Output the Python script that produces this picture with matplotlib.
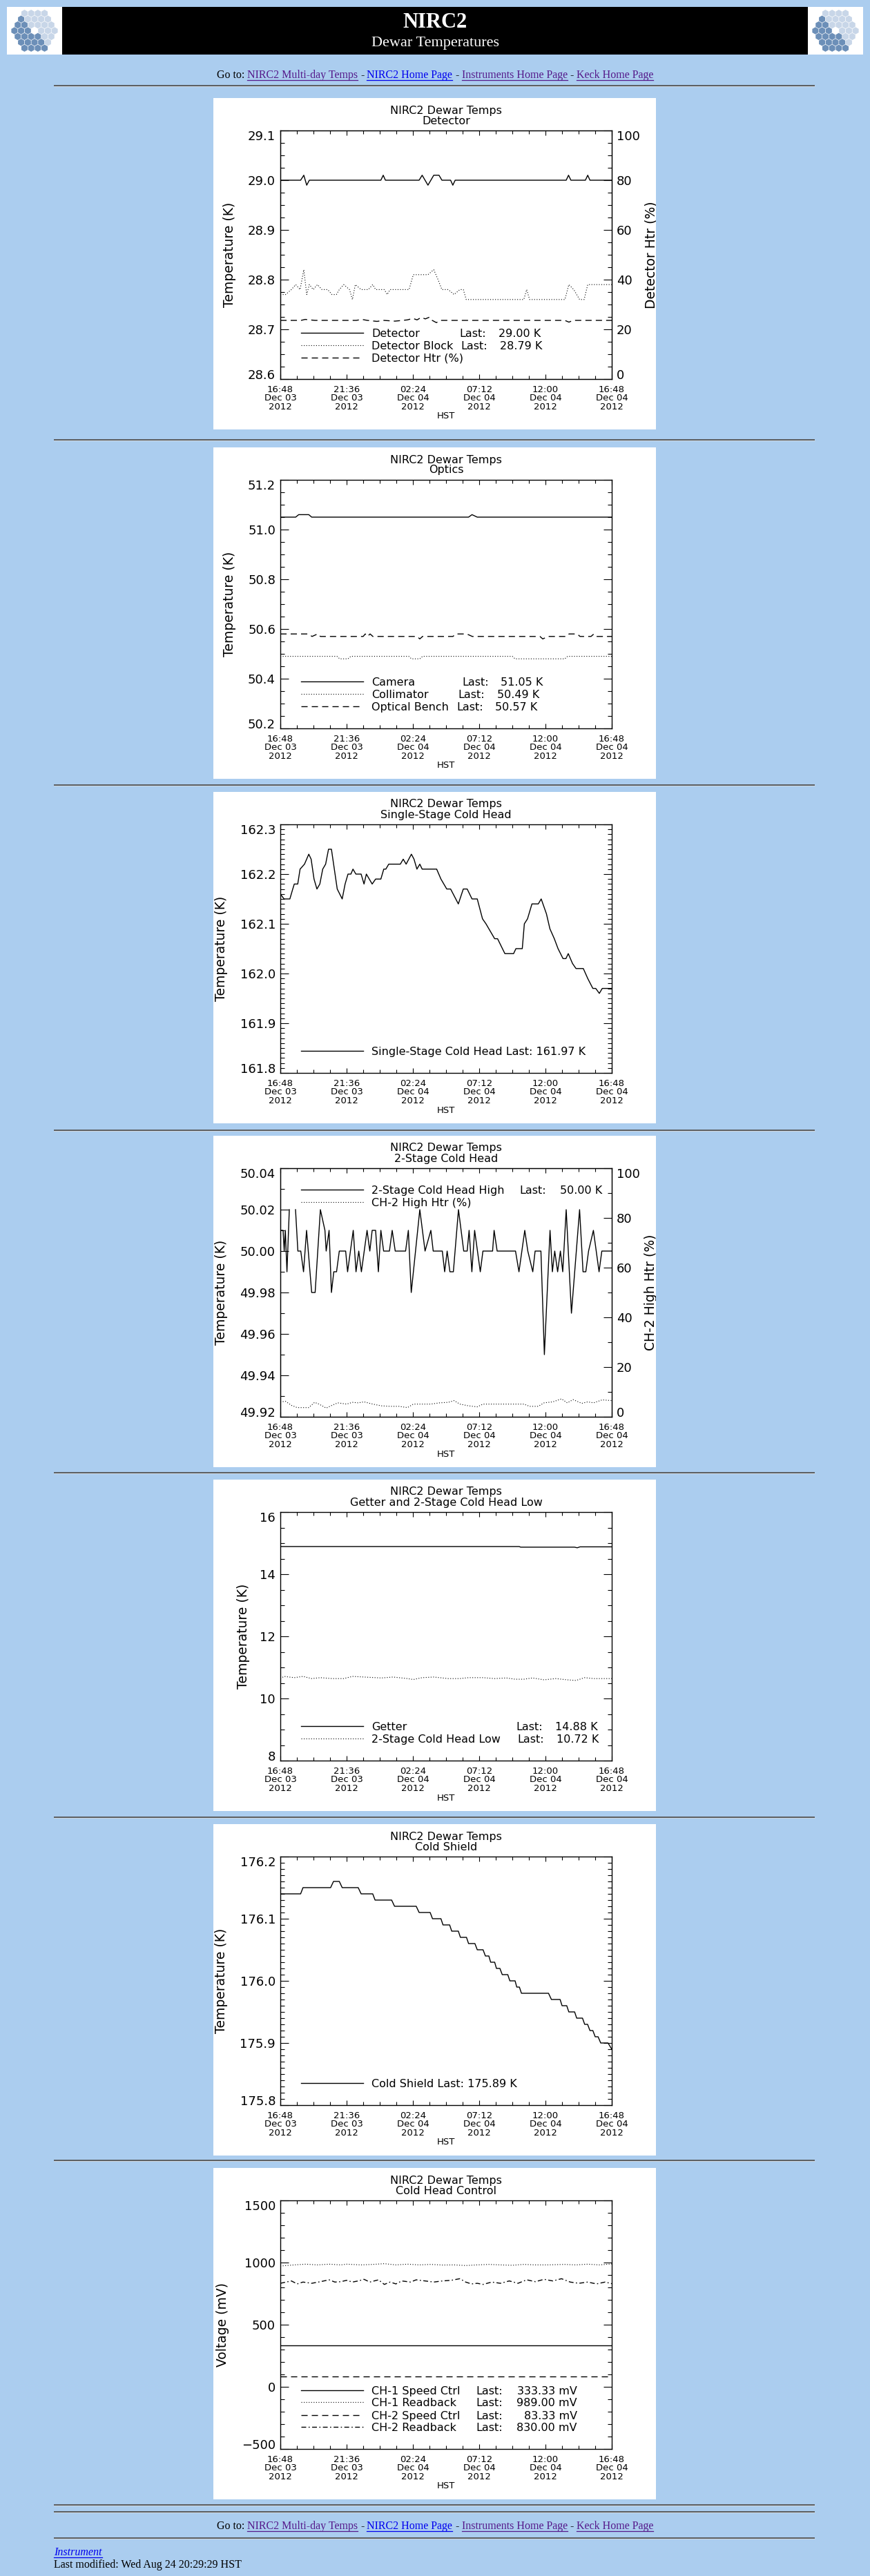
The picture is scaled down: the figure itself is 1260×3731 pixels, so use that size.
import matplotlib
matplotlib.use("Agg")
import matplotlib.pyplot as plt
import numpy as np
from matplotlib import transforms
from matplotlib.patches import Rectangle, RegularPolygon
from matplotlib.ticker import MultipleLocator

W, H = 1260, 3731
PAGE_BG = "#ABCDEF"
VISITED = "#551A8B"
LINK = "#0000EE"
nan = float("nan")

# ---- data (hours since 16:48 Dec 03 2012 HST, value) ----
X_TICK_HOURS = [0, 4.8, 9.6, 14.4, 19.2, 24]
X_TICK_LABELS = ["16:48\nDec 03\n2012", "21:36\nDec 03\n2012", "02:24\nDec 04\n2012",
                 "07:12\nDec 04\n2012", "12:00\nDec 04\n2012", "16:48\nDec 04\n2012"]

DETECTOR = [(0.0, 29.00), (1.47, 29.00), (1.70, 29.01), (1.91, 28.99), (2.10, 29.00),
            (7.28, 29.00), (7.45, 29.01), (7.61, 29.00), (10.05, 29.00), (10.27, 29.01),
            (10.69, 28.99), (11.11, 29.01), (11.49, 29.01), (11.70, 29.00), (12.33, 29.00),
            (12.49, 28.99), (12.66, 29.00), (20.70, 29.00), (20.87, 29.01), (21.04, 29.00),
            (22.09, 29.00), (22.26, 29.01), (22.42, 29.00), (24.0, 29.00)]
DETECTOR_BLOCK = [(0.0, 28.77), (0.38, 28.77), (0.80, 28.78), (1.11, 28.79), (1.43, 28.78),
                  (1.70, 28.82), (1.91, 28.77), (2.10, 28.79), (2.38, 28.78), (2.69, 28.79),
                  (3.01, 28.78), (3.43, 28.78), (3.74, 28.77), (4.06, 28.77), (4.27, 28.78),
                  (4.59, 28.79), (5.01, 28.78), (5.22, 28.76), (5.43, 28.79), (5.85, 28.78),
                  (6.37, 28.78), (6.69, 28.79), (6.90, 28.78), (7.53, 28.78), (7.74, 28.77),
                  (7.95, 28.78), (9.32, 28.78), (9.63, 28.81), (10.69, 28.81), (11.11, 28.82),
                  (11.42, 28.80), (11.70, 28.78), (12.16, 28.78), (12.58, 28.77), (13.00, 28.78),
                  (13.25, 28.78), (13.46, 28.76), (17.63, 28.76), (17.84, 28.78), (18.05, 28.76),
                  (20.61, 28.76), (20.89, 28.79), (21.25, 28.78), (21.67, 28.76), (22.00, 28.76),
                  (22.26, 28.79), (24.0, 28.79)]
DETECTOR_HTR = [(0.0, 23.6), (1.5, 23.6), (1.8, 24.0), (2.5, 23.6), (5.5, 23.6), (5.9, 24.0),
                (6.3, 23.6), (7.0, 23.2), (7.5, 23.6), (8.3, 23.3), (9.2, 23.8), (9.6, 24.4),
                (9.9, 23.8), (10.2, 24.8), (10.5, 24.2), (10.8, 24.9), (11.0, 23.6), (11.3, 22.7),
                (11.6, 23.6), (20.6, 23.6), (20.9, 22.9), (21.2, 23.6), (24.0, 23.6)]

CAMERA = [(0.0, 51.05), (1.11, 51.05), (1.33, 51.06), (2.06, 51.06), (2.27, 51.05),
          (13.63, 51.05), (13.88, 51.06), (14.26, 51.05), (24.0, 51.05)]
COLLIMATOR = [(0.0, 50.49), (4.1, 50.49), (4.3, 50.48), (4.9, 50.48), (5.1, 50.49),
              (9.3, 50.49), (9.5, 50.48), (10.1, 50.48), (10.3, 50.49), (16.8, 50.49),
              (17.0, 50.48), (20.6, 50.48), (20.8, 50.49), (24.0, 50.49)]
OPTICAL_BENCH = [(0.0, 50.58), (2.0, 50.58), (2.3, 50.57), (2.7, 50.58), (2.9, 50.57),
                 (6.0, 50.57), (6.15, 50.58), (6.3, 50.57), (6.5, 50.58), (6.7, 50.57),
                 (9.9, 50.57), (10.1, 50.56), (10.3, 50.57), (12.5, 50.57), (12.7, 50.58),
                 (13.5, 50.58), (13.9, 50.57), (18.8, 50.57), (19.0, 50.56), (19.4, 50.57),
                 (20.7, 50.57), (20.9, 50.58), (21.5, 50.58), (21.7, 50.57), (22.5, 50.57),
                 (22.7, 50.58), (22.9, 50.57), (24.0, 50.57)]

SINGLE_STAGE = [(0.0, 162.16), (0.27, 162.15), (0.69, 162.15), (0.90, 162.17), (1.01, 162.18),
                (1.26, 162.18), (1.43, 162.21), (1.75, 162.22), (2.06, 162.24), (2.23, 162.23),
                (2.44, 162.19), (2.65, 162.17), (2.86, 162.18), (3.07, 162.21), (3.28, 162.22),
                (3.49, 162.25), (3.70, 162.25), (3.91, 162.21), (4.12, 162.17), (4.48, 162.15),
                (4.69, 162.18), (4.90, 162.20), (5.11, 162.20), (5.26, 162.21), (5.47, 162.20),
                (5.85, 162.20), (6.06, 162.18), (6.23, 162.20), (6.65, 162.18), (6.90, 162.19),
                (7.28, 162.19), (7.49, 162.21), (7.64, 162.21), (7.85, 162.22), (8.69, 162.22),
                (8.90, 162.23), (9.11, 162.22), (9.49, 162.24), (9.68, 162.23), (9.89, 162.21),
                (10.10, 162.22), (10.27, 162.21), (11.32, 162.21), (11.63, 162.19), (12.05, 162.17),
                (12.33, 162.17), (12.89, 162.14), (13.25, 162.17), (13.53, 162.17), (13.88, 162.15),
                (14.26, 162.15), (14.64, 162.11), (14.89, 162.10), (15.52, 162.07), (15.73, 162.07),
                (16.26, 162.04), (16.89, 162.04), (17.06, 162.05), (17.52, 162.05), (17.67, 162.10),
                (17.90, 162.11), (18.22, 162.14), (18.68, 162.14), (18.89, 162.15), (19.27, 162.12),
                (19.52, 162.09), (19.84, 162.07), (20.11, 162.05), (20.47, 162.03), (20.68, 162.03),
                (20.85, 162.04), (21.16, 162.02), (21.41, 162.01), (21.94, 162.01), (22.26, 161.99),
                (22.63, 161.97), (22.84, 161.97), (23.10, 161.96), (23.31, 161.97), (24.0, 161.97)]

CH2_HIGH = [(0.00, 50.01), (0.20, 50.01), (0.28, 50.00), (0.36, 50.01), (0.48, 49.99),
            (0.65, 50.02), (0.85, nan), (1.10, 50.02), (1.27, 50.00), (1.48, 50.00),
            (1.68, 49.99), (1.90, 50.01), (2.27, 49.98), (2.52, 49.98), (2.90, 50.02),
            (3.23, 50.01), (3.32, 50.00), (3.53, 50.01), (3.70, 49.98), (3.87, 49.99),
            (4.07, 49.99), (4.27, 50.00), (4.73, 50.00), (4.87, 49.99), (5.28, 50.01),
            (5.48, 49.99), (5.68, 50.00), (5.87, 49.99), (6.28, 50.01), (6.48, 50.00),
            (6.65, 50.01), (6.90, 50.01), (7.10, 49.99), (7.28, 50.01), (7.48, 50.00),
            (7.90, 50.00), (8.10, 50.01), (8.32, 50.00), (9.07, 50.00), (9.27, 50.01),
            (9.48, 49.98), (10.10, 50.02), (10.48, 50.00), (10.90, 50.01), (11.07, 50.00),
            (11.73, 50.00), (11.90, 49.99), (12.08, 50.00), (12.28, 49.99), (12.53, 49.99),
            (12.90, 50.02), (13.28, 50.00), (13.53, 50.00), (13.67, 50.01), (13.87, 49.99),
            (14.07, 50.01), (14.48, 49.99), (14.67, 50.00), (15.37, 50.00), (15.48, 50.01),
            (15.70, 50.00), (17.03, 50.00), (17.28, 49.99), (17.70, 50.01), (17.92, 50.00),
            (18.28, 49.99), (18.45, 50.00), (18.87, 50.00), (19.12, 49.95), (19.53, 50.01),
            (19.70, 49.99), (19.87, 50.00), (20.08, 49.99), (20.28, 50.00), (20.45, 49.99),
            (20.70, 50.02), (21.08, 49.97), (21.67, 50.02), (21.92, 49.99), (22.12, 49.99),
            (22.32, 50.00), (22.67, 50.01), (23.08, 49.99), (23.28, 50.00), (24.00, 50.00)]
CH2_HIGH_HTR = [(0.0, 6.0), (0.38, 6.2), (0.80, 4.6), (1.22, 3.7), (2.06, 3.7), (2.48, 5.8),
                (2.80, 5.1), (3.32, 3.5), (3.74, 4.6), (4.16, 5.6), (4.80, 5.1), (5.22, 5.8),
                (5.64, 5.6), (6.06, 6.0), (6.69, 5.1), (7.32, 4.4), (7.95, 4.2), (8.58, 4.2),
                (9.21, 3.7), (9.63, 5.1), (10.27, 5.1), (10.90, 5.1), (11.53, 5.6), (12.16, 5.8),
                (12.58, 6.5), (13.00, 5.1), (13.63, 4.4), (14.26, 4.0), (14.68, 5.1), (15.52, 5.1),
                (16.37, 5.1), (17.00, 5.1), (17.63, 5.1), (18.05, 4.2), (18.68, 4.2), (19.10, 5.6),
                (19.73, 6.0), (20.36, 7.2), (20.78, 5.6), (21.20, 6.9), (21.83, 5.4), (22.26, 6.0),
                (22.68, 5.6), (23.31, 6.8), (24.0, 6.5)]

GETTER = [(0.0, 14.89), (17.3, 14.89), (17.4, 14.87), (21.3, 14.87), (21.5, 14.85),
          (21.7, 14.88), (24.0, 14.88)]
CH2_LOW = [(0.0, 10.64), (0.27, 10.71), (1.01, 10.67), (1.64, 10.71), (2.27, 10.64),
           (2.90, 10.67), (3.74, 10.64), (4.59, 10.64), (5.22, 10.71), (6.06, 10.69),
           (7.32, 10.66), (8.16, 10.69), (9.21, 10.64), (9.63, 10.61), (10.27, 10.67),
           (11.11, 10.69), (12.16, 10.64), (13.00, 10.64), (13.63, 10.67), (14.68, 10.67),
           (15.52, 10.64), (16.37, 10.66), (17.00, 10.62), (17.63, 10.62), (18.26, 10.66),
           (19.10, 10.60), (19.94, 10.64), (20.78, 10.60), (21.41, 10.58), (22.04, 10.67),
           (22.68, 10.64), (23.31, 10.64), (24.0, 10.64)]

COLD_SHIELD = [(0.0, 176.14), (1.47, 176.14), (1.64, 176.15), (3.64, 176.15), (3.85, 176.16),
               (4.27, 176.16), (4.48, 176.15), (5.64, 176.15), (5.85, 176.14), (6.69, 176.14),
               (6.86, 176.13), (8.06, 176.13), (8.27, 176.12), (9.84, 176.12), (10.05, 176.11),
               (10.85, 176.11), (11.02, 176.10), (11.63, 176.10), (11.78, 176.09), (12.26, 176.09),
               (12.41, 176.08), (12.89, 176.08), (13.04, 176.07), (13.48, 176.07), (13.63, 176.06),
               (14.09, 176.06), (14.26, 176.05), (14.68, 176.05), (14.85, 176.04), (15.10, 176.04),
               (15.23, 176.03), (15.52, 176.03), (15.65, 176.02), (15.90, 176.02), (16.07, 176.01),
               (16.47, 176.01), (16.62, 176.00), (17.00, 176.00), (17.12, 175.99), (17.31, 175.99),
               (17.46, 175.98), (19.42, 175.98), (19.63, 175.97), (20.26, 175.97), (20.40, 175.96),
               (20.74, 175.96), (20.89, 175.95), (21.31, 175.95), (21.46, 175.94), (21.88, 175.94),
               (22.04, 175.93), (22.25, 175.93), (22.42, 175.92), (22.63, 175.92), (22.80, 175.91),
               (23.01, 175.91), (23.20, 175.90), (23.73, 175.90), (24.0, 175.89)]

CH1_SPEED = [(0.0, 333.33), (24.0, 333.33)]
CH2_SPEED = [(0.0, 83.33), (24.0, 83.33)]
CH1_READBACK = [(0.0, 972), (1.01, 981), (1.85, 987), (2.69, 981), (3.53, 987), (4.38, 981),
                (4.80, 987), (5.85, 981), (6.69, 985), (7.53, 991), (8.37, 981), (9.21, 987),
                (10.05, 981), (10.90, 985), (11.74, 980), (12.58, 981), (13.42, 976), (14.26, 981),
                (15.10, 985), (15.94, 981), (16.79, 978), (17.63, 985), (18.47, 981), (19.31, 981),
                (20.57, 985), (21.41, 981), (22.26, 987), (23.10, 981), (24.0, 989)]
CH2_READBACK = [(0.0, 833), (0.80, 852), (1.22, 828), (1.64, 843), (2.27, 833), (2.90, 846),
                (3.53, 861), (3.95, 843), (4.38, 846), (4.80, 857), (5.22, 843), (5.64, 852),
                (6.06, 865), (6.48, 843), (7.11, 861), (7.53, 824), (7.95, 843), (8.37, 828),
                (8.79, 852), (9.42, 843), (9.84, 861), (10.48, 852), (11.11, 843), (11.74, 852),
                (12.37, 857), (13.00, 870), (13.42, 843), (13.84, 828), (14.26, 833), (14.68, 824),
                (15.31, 843), (15.94, 833), (16.58, 852), (17.21, 833), (17.84, 861), (18.47, 846),
                (19.10, 865), (19.73, 852), (20.36, 870), (20.99, 843), (21.62, 833), (22.26, 843),
                (22.89, 828), (23.52, 843), (24.0, 830)]

# ---- layout (pixels) ----
BOX_X, BOX_W, BOX_H = 309, 641, 480
AX_L, AX_T, AX_W, AX_H = 97, 47, 480, 360
PANEL_TOPS = [142, 648, 1147, 1645, 2143, 2642, 3140]
HR_YS = [124, 637, 1137, 1637, 2133, 2632, 3129, 3628, 3638, 3676]

STYLES = {
    "solid": dict(linestyle="-", linewidth=1.0),
    "dotted": dict(linestyle=(0, (1, 2.2)), linewidth=0.8),
    "dashed": dict(linestyle=(0, (6.5, 4.3)), linewidth=1.0),
    "dashdot": dict(linestyle=(0, (5, 2.5, 1.2, 2.5)), linewidth=1.0),
}

fig = plt.figure(figsize=(W / 100, H / 100), dpi=100)
fig.patch.set_facecolor(PAGE_BG)
page = fig.add_axes([0, 0, 1, 1])
page.set_xlim(0, W)
page.set_ylim(H, 0)
page.axis("off")
renderer = fig.canvas.get_renderer()


def fig_rect(x, y, w, h):
    return [x / W, 1 - (y + h) / H, w / W, h / H]


def xy(pairs):
    h, v = zip(*pairs)
    return np.array(h, dtype=float), np.array(v, dtype=float)


def label_y(ax, fmt, side="left"):
    lo, hi = ax.get_ylim()
    tol = (hi - lo) * 1e-6
    sign = -1 if side == "left" else 1
    off = transforms.ScaledTranslation(sign * 7 / 100, 0, fig.dpi_scale_trans)
    tr = ax.get_yaxis_transform() + off
    xa = 0 if side == "left" else 1
    for loc in ax.yaxis.get_majorticklocs():
        if loc < lo - tol or loc > hi + tol:
            continue
        if abs(loc - lo) <= tol:
            va = "baseline"
        elif abs(loc - hi) <= tol:
            va = "top"
        else:
            va = "center_baseline"
        txt = (fmt % loc).replace("-", "\u2212")
        ax.text(xa, loc, txt, transform=tr, fontsize=13, va=va,
                ha="right" if side == "left" else "left")


def style_ticks(ax, right=True):
    for s in ax.spines.values():
        s.set_linewidth(1.0)
    ax.tick_params(which="both", direction="in", top=True, right=right,
                   labelleft=False, width=0.8)
    ax.tick_params(axis="x", which="major", length=5, pad=6.2)
    ax.tick_params(axis="x", which="minor", length=3.5)
    ax.tick_params(axis="y", which="major", length=8.5)
    ax.tick_params(axis="y", which="minor", length=4)


def make_panel(top, subtitle, ylim, major, minor, fmt, ylabel, ylabel_x, twin=False):
    bx = fig.add_axes(fig_rect(BOX_X, top, BOX_W, BOX_H))
    bx.set_xlim(0, BOX_W)
    bx.set_ylim(BOX_H, 0)
    bx.axis("off")
    bx.add_patch(Rectangle((0, 0), BOX_W, BOX_H, facecolor="white", edgecolor="none"))
    cx = AX_L + AX_W / 2
    bx.text(cx, 18, "NIRC2 Dewar Temps", ha="center", va="center", fontsize=11.5)
    bx.text(cx, 33, subtitle, ha="center", va="center", fontsize=11.5)
    bx.text(cx, 461, "HST", ha="center", va="center", fontsize=9.5)
    bx.text(ylabel_x, AX_T + AX_H / 2, ylabel, rotation=90, ha="center", va="center",
            fontsize=13.5)

    ax = fig.add_axes(fig_rect(BOX_X + AX_L, top + AX_T, AX_W, AX_H))
    ax.set_xlim(0, 24)
    ax.set_ylim(*ylim)
    ax.set_xticks(X_TICK_HOURS, X_TICK_LABELS, fontsize=9.5, linespacing=0.95)
    ax.xaxis.set_minor_locator(MultipleLocator(1.2))
    ax.yaxis.set_major_locator(MultipleLocator(major))
    ax.yaxis.set_minor_locator(MultipleLocator(minor))
    style_ticks(ax, right=not twin)
    label_y(ax, fmt)
    return bx, ax


def add_twin(ax, bx, label, minor):
    ax2 = ax.twinx()
    ax2.set_ylim(0, 100)
    ax2.yaxis.set_major_locator(MultipleLocator(20))
    ax2.yaxis.set_minor_locator(MultipleLocator(minor))
    ax2.tick_params(which="both", direction="in", right=True, left=False,
                    labelright=False, width=0.8)
    ax2.tick_params(which="major", length=8.5)
    ax2.tick_params(which="minor", length=4)
    ax.tick_params(which="both", right=False)
    label_y(ax2, "%.0f", side="right")
    bx.text(634, AX_T + AX_H / 2, label, rotation=90, ha="center", va="center",
            fontsize=13.5, clip_on=True)
    return ax2


def series(ax, pairs, style):
    h, v = xy(pairs)
    ax.plot(h, v, color="black", **STYLES[style])


def legend_row(ax, y, style, name, last_x=None, value=None, value_x=None, value_ha="left"):
    fy = 1 - y / AX_H
    ax.plot([30 / AX_W, 120 / AX_W], [fy, fy], transform=ax.transAxes, color="black",
            clip_on=False, **STYLES[style])
    ax.text(132 / AX_W, fy, name, transform=ax.transAxes, va="center_baseline",
            fontsize=11.5)
    if last_x is not None:
        ax.text(last_x / AX_W, fy, "Last:", transform=ax.transAxes,
                va="center_baseline", fontsize=11.5)
    if value is not None:
        ax.text(value_x / AX_W, fy, value, transform=ax.transAxes,
                va="center_baseline", ha=value_ha, fontsize=11.5)


# ---- page header ----
def draw_logo(x0):
    page.add_patch(Rectangle((x0, 10), 80, 69, facecolor="white", edgecolor="none"))
    cx, cy, s = x0 + 40, 44.5, 5.6
    for q in range(-3, 4):
        for r in range(-3, 4):
            if max(abs(q), abs(r), abs(q + r)) > 3 or (q == 0 and r == 0):
                continue
            px = cx + s * np.sqrt(3) * (q + r / 2)
            py = cy + s * 1.5 * r
            dark = (px - cx) < 0.6 * (py - cy)
            page.add_patch(RegularPolygon((px, py), 6, radius=s * 0.93,
                                          facecolor="#6C8FB8" if dark else "#C8D6E8",
                                          edgecolor="none"))


page.add_patch(Rectangle((90, 10), 1080, 69, facecolor="black", edgecolor="none"))
draw_logo(10)
draw_logo(1170)
page.text(630, 32, "NIRC2", color="white", fontsize=22, fontweight="bold",
          family="Liberation Serif", ha="center", va="center")
page.text(630, 62, "Dewar Temperatures", color="white", fontsize=16,
          family="Liberation Serif", ha="center", va="center")


def goto_line(base_y):
    pieces = [("Go to:", "black", False), ("NIRC2 Multi-day Temps", VISITED, True),
              ("-", "black", False), ("NIRC2 Home Page", LINK, True),
              ("-", "black", False), ("Instruments Home Page", VISITED, True),
              ("-", "black", False), ("Keck Home Page", VISITED, True)]
    gap = 4
    texts, widths = [], []
    for s, c, link in pieces:
        t = page.text(0, base_y, s, color=c, fontsize=11.5, family="Liberation Serif",
                      ha="left", va="baseline")
        texts.append(t)
        widths.append(t.get_window_extent(renderer).width)
    x = 630 - (sum(widths) + gap * (len(pieces) - 1)) / 2
    for t, w, (s, c, link) in zip(texts, widths, pieces):
        t.set_x(x)
        if link:
            page.plot([x, x + w], [base_y + 2.5, base_y + 2.5], color=c, lw=0.9)
        x += w + gap


goto_line(113)
goto_line(3663)
for y in HR_YS:
    page.plot([78, 1180], [y, y], color="#555555", lw=1.3, solid_capstyle="butt")
    page.plot([78, 1180], [y + 1.2, y + 1.2], color="#DDDDDD", lw=0.5)

t = page.text(78, 3701, "Instrument", color=LINK, fontsize=11.5, style="italic",
              family="Liberation Serif", ha="left", va="baseline")
w = t.get_window_extent(renderer).width
page.plot([78, 78 + w], [3703.5, 3703.5], color=LINK, lw=0.9)
page.text(78, 3719, "Last modified: Wed Aug 24 20:29:29 HST", color="black", fontsize=11.5,
          family="Liberation Serif", ha="left", va="baseline")

# ---- panel 1: detector ----
bx, ax = make_panel(PANEL_TOPS[0], "Detector", (28.6, 29.1), 0.1, 0.025, "%.1f",
                    "Temperature (K)", 24, twin=True)
ax2 = add_twin(ax, bx, "Detector Htr (%)", 5)
series(ax, DETECTOR, "solid")
series(ax, DETECTOR_BLOCK, "dotted")
series(ax2, DETECTOR_HTR, "dashed")
legend_row(ax, 293, "solid", "Detector", 259, "29.00 K", 316)
legend_row(ax, 311, "dotted", "Detector Block", 261, "28.79 K", 318)
legend_row(ax, 329, "dashed", "Detector Htr (%)")

# ---- panel 2: optics ----
bx, ax = make_panel(PANEL_TOPS[1], "Optics", (50.2, 51.2), 0.2, 0.05, "%.1f",
                    "Temperature (K)", 24)
series(ax, CAMERA, "solid")
series(ax, COLLIMATOR, "dotted")
series(ax, OPTICAL_BENCH, "dashed")
legend_row(ax, 292, "solid", "Camera", 263, "51.05 K", 319)
legend_row(ax, 310, "dotted", "Collimator", 257, "50.49 K", 314)
legend_row(ax, 328, "dashed", "Optical Bench", 255, "50.57 K", 311)

# ---- panel 3: single-stage cold head ----
bx, ax = make_panel(PANEL_TOPS[2], "Single-Stage Cold Head", (161.8, 162.3), 0.1, 0.01,
                    "%.1f", "Temperature (K)", 12)
series(ax, SINGLE_STAGE, "solid")
legend_row(ax, 328, "solid", "Single-Stage Cold Head Last: 161.97 K")

# ---- panel 4: 2-stage cold head ----
bx, ax = make_panel(PANEL_TOPS[3], "2-Stage Cold Head", (49.92, 50.04), 0.02, 0.01,
                    "%.2f", "Temperature (K)", 12, twin=True)
ax2 = add_twin(ax, bx, "CH-2 High Htr (%)", 10)
series(ax, CH2_HIGH, "solid")
series(ax2, CH2_HIGH_HTR, "dotted")
legend_row(ax, 31, "solid", "2-Stage Cold Head High", 346, "50.00 K", 405)
legend_row(ax, 49, "dotted", "CH-2 High Htr (%)")

# ---- panel 5: getter ----
bx, ax = make_panel(PANEL_TOPS[4], "Getter and 2-Stage Cold Head Low", (8, 16), 2, 0.5,
                    "%.0f", "Temperature (K)", 44)
series(ax, GETTER, "solid")
series(ax, CH2_LOW, "dotted")
legend_row(ax, 310, "solid", "Getter", 341, "14.88 K", 398)
legend_row(ax, 328, "dotted", "2-Stage Cold Head Low", 343, "10.72 K", 400)

# ---- panel 6: cold shield ----
bx, ax = make_panel(PANEL_TOPS[5], "Cold Shield", (175.8, 176.2), 0.1, 0.01, "%.1f",
                    "Temperature (K)", 12)
series(ax, COLD_SHIELD, "solid")
legend_row(ax, 328, "solid", "Cold Shield Last: 175.89 K")

# ---- panel 7: cold head control ----
bx, ax = make_panel(PANEL_TOPS[6], "Cold Head Control", (-500, 1500), 500, 100, "%.0f",
                    "Voltage (mV)", 13)
series(ax, CH1_SPEED, "solid")
series(ax, CH1_READBACK, "dotted")
series(ax, CH2_SPEED, "dashed")
series(ax, CH2_READBACK, "dashdot")
legend_row(ax, 275, "solid", "CH-1 Speed Ctrl", 283, "333.33 mV", 430, "right")
legend_row(ax, 292, "dotted", "CH-1 Readback", 283, "989.00 mV", 430, "right")
legend_row(ax, 311, "dashed", "CH-2 Speed Ctrl", 283, "83.33 mV", 430, "right")
legend_row(ax, 328, "dashdot", "CH-2 Readback", 283, "830.00 mV", 430, "right")

fig.savefig("out.png", dpi=100, facecolor=PAGE_BG)
